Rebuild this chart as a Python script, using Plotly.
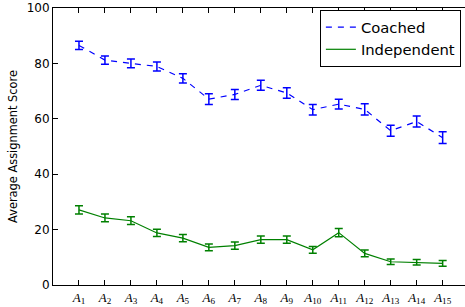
import plotly.graph_objects as go

labels = [f"<i>A</i><sub>{i}</sub>" for i in range(1, 16)]
x_pos = list(range(1, 16))

coached = [86.5, 81.2, 80.0, 78.9, 74.6, 67.1, 68.8, 72.1, 69.3, 63.3, 65.3, 63.4, 55.7, 59.0, 53.2]
coached_err = [1.5, 1.5, 1.6, 1.6, 1.7, 1.9, 1.8, 1.8, 1.9, 1.9, 1.8, 2.0, 2.0, 2.0, 2.1]

independent = [27.1, 24.2, 23.2, 18.8, 16.9, 13.6, 14.2, 16.4, 16.4, 12.7, 18.9, 11.4, 8.4, 8.2, 7.8]
independent_err = [1.5, 1.4, 1.4, 1.3, 1.3, 1.2, 1.3, 1.3, 1.3, 1.2, 1.5, 1.2, 1.0, 1.0, 1.0]

y_ticks = [0, 20, 40, 60, 80, 100]

fig = go.Figure()
fig.add_trace(go.Scatter(
    x=x_pos, y=coached, mode="lines", name="Coached", legendgroup="c",
    line=dict(color="#0000ff", width=1.2, dash="6px,6px"),
    error_y=dict(type="data", array=coached_err, visible=True,
                 color="#0000ff", thickness=1.5, width=4),
))
fig.add_trace(go.Scatter(
    x=x_pos, y=independent, mode="lines", name="Independent", legendgroup="i",
    line=dict(color="#008000", width=1.2),
    error_y=dict(type="data", array=independent_err, visible=True,
                 color="#008000", thickness=1.5, width=4),
))

fig.update_layout(
    width=465, height=307,
    margin=dict(l=53, r=0, t=8, b=22),
    paper_bgcolor="white", plot_bgcolor="white",
    font=dict(family="DejaVu Sans", size=12, color="black"),
    showlegend=True,
    legend=dict(
        x=0.99, y=0.993, xanchor="right", yanchor="top",
        bordercolor="black", borderwidth=1, bgcolor="white",
        font=dict(family="DejaVu Sans", size=14.8, color="black"),
        tracegroupgap=0,
    ),
    xaxis=dict(
        range=[0, 15.86], tickvals=x_pos, ticktext=labels,
        ticks="inside", ticklen=5, tickcolor="black", tickwidth=1,
        showline=True, linecolor="black", linewidth=1, mirror="ticks",
        showgrid=False, zeroline=False,
        tickfont=dict(family="Liberation Serif", size=13, color="black"),
    ),
    yaxis=dict(
        range=[0, 100], tickvals=y_ticks,
        ticks="inside", ticklen=5, tickcolor="black", tickwidth=1,
        showline=True, linecolor="black", linewidth=1, mirror=False,
        showgrid=False, zeroline=False,
        tickfont=dict(family="DejaVu Sans", size=12, color="black"),
        title=dict(text="Average Assignment Score", standoff=6,
                   font=dict(family="DejaVu Sans", size=11.4, color="black")),
    ),
    yaxis2=dict(
        range=[0, 100], tickvals=y_ticks, overlaying="y", side="right", anchor="x",
        ticks="inside", ticklen=2, tickcolor="black", tickwidth=1,
        showticklabels=False, showline=False, showgrid=False, zeroline=False,
    ),
)

fig.write_html("out.html", config={"displayModeBar": False})

with open("out.html", "r", encoding="utf-8") as f:
    html = f.read()
html = html.replace("<body>", '<body style="margin:0;padding:0;overflow:hidden">', 1)
with open("out.html", "w", encoding="utf-8") as f:
    f.write(html)
